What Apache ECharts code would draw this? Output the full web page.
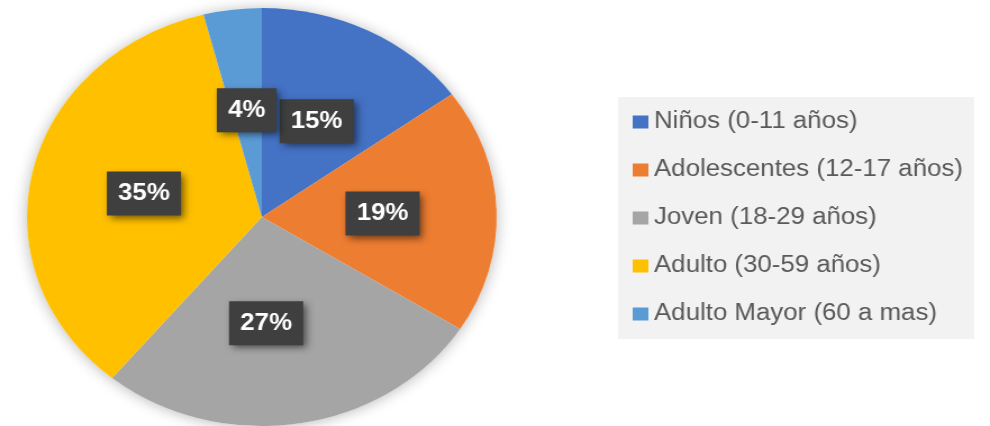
<!DOCTYPE html>
<html>
<head>
<meta charset="utf-8">
<script src="https://cdn.jsdelivr.net/npm/echarts@6/dist/echarts.min.js"></script>
<style>
  html, body { margin: 0; padding: 0; background: #ffffff; overflow: hidden; }
  #wrap { width: 990px; height: 426px; overflow: hidden; position: relative; }
  /* The chart is drawn on a narrower canvas and widened horizontally */
  #chart { width: 881px; height: 426px; transform: scaleX(1.1237); transform-origin: 0 0; }
</style>
</head>
<body>
<div id="wrap"><div id="chart"></div></div>
<script>
// Age groups and their share of the population (%)
const categories = [
  'Niños (0-11 años)',
  'Adolescentes (12-17 años)',
  'Joven (18-29 años)',
  'Adulto (30-59 años)',
  'Adulto Mayor (60 a mas)'
];
const shares = [15, 19, 27, 35, 4];
const colors = ['#4472C4', '#ED7D31', '#A5A5A5', '#FFC000', '#5B9BD5'];

const chart = echarts.init(document.getElementById('chart'), null, { renderer: 'canvas' });

const option = {
  animation: false,
  color: colors,
  legend: {
    orient: 'vertical',
    left: 550,
    top: 97,
    padding: [13, 10, 13, 13],
    backgroundColor: '#f2f2f2',
    itemWidth: 14,
    itemHeight: 13,
    itemGap: 24,
    icon: 'rect',
    selectedMode: false,
    textStyle: {
      fontFamily: 'Liberation Sans',
      fontSize: 23,
      lineHeight: 24,
      color: '#595959'
    },
    data: categories
  },
  series: [
    {
      // soft shadow beneath the whole pie
      type: 'pie',
      silent: true,
      center: [233, 217],
      radius: 209,
      label: { show: false },
      labelLine: { show: false },
      itemStyle: {
        color: '#ffffff',
        shadowBlur: 14,
        shadowColor: 'rgba(0,0,0,0.28)',
        shadowOffsetY: 1
      },
      data: [{ value: 1, name: '' }],
      z: 1
    },
    {
      type: 'pie',
      center: [233, 217],
      radius: 209,
      startAngle: 90,
      clockwise: true,
      avoidLabelOverlap: false,
      z: 2,
      itemStyle: { borderWidth: 0 },
      label: {
        show: true,
        position: 'inside',
        formatter: p => p.value + '%',
        fontFamily: 'Liberation Sans',
        fontWeight: 'bold',
        fontSize: 23,
        lineHeight: 24,
        color: '#ffffff',
        backgroundColor: '#3f3f3f',
        padding: [10, 10, 10, 10],
        shadowColor: 'rgba(0,0,0,0.55)',
        shadowBlur: 7,
        shadowOffsetX: 3,
        shadowOffsetY: 3,
        textShadowBlur: 0
      },
      labelLine: { show: false },
      labelLayout: function (params) {
        // nudge the Joven label slightly left
        if (params.dataIndex === 2) return { dx: -13 };
        return {};
      },
      data: categories.map((name, i) => ({ name: name, value: shares[i] }))
    }
  ]
};

chart.setOption(option);
</script>
</body>
</html>
